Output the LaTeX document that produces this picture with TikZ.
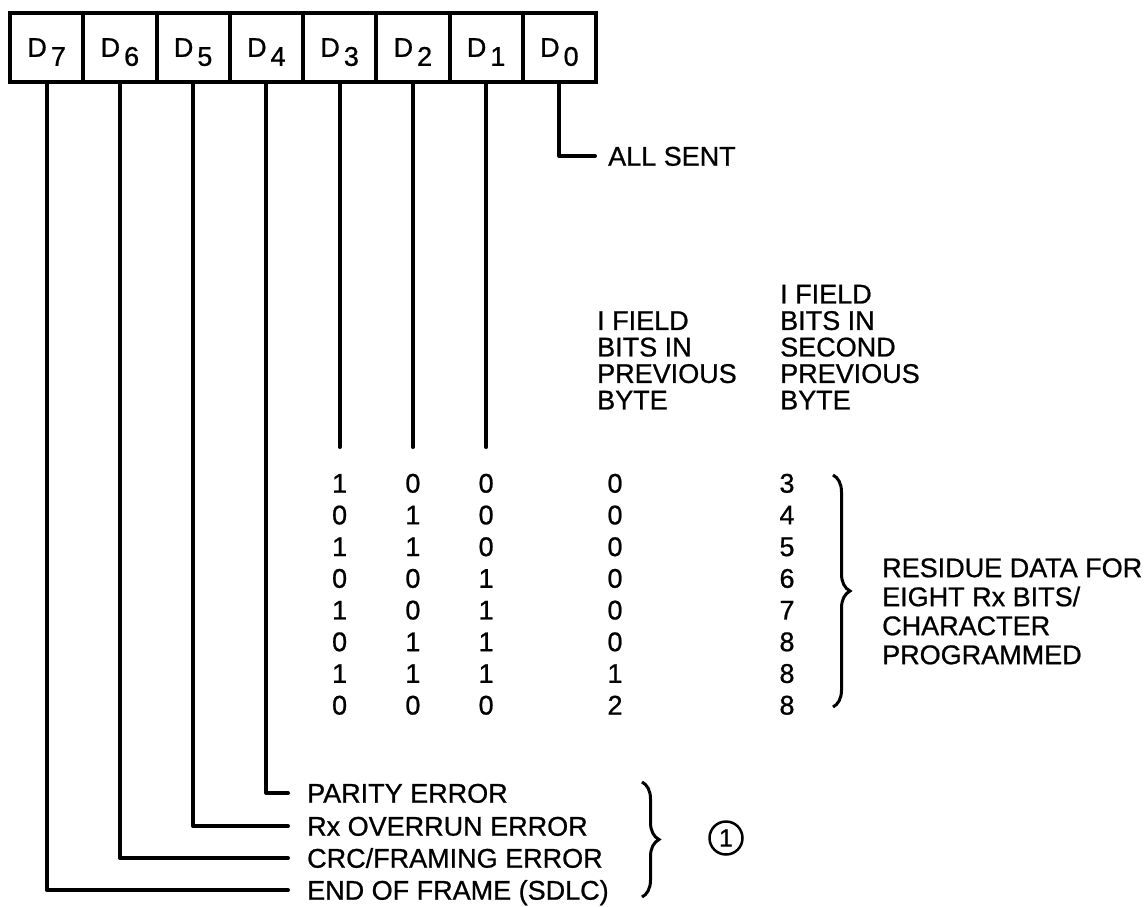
\documentclass[tikz,border=0pt]{standalone}
\usepackage{fontspec}
\setmainfont{Liberation Sans}[FakeBold=0.8]
\usetikzlibrary{decorations.pathreplacing}
\begin{document}
\begin{tikzpicture}[
    x=1pt,y=-1pt,
    every node/.style={font=\fontsize{27}{28}\selectfont, inner sep=0pt},
    bitcell/.style={draw, line width=4pt, minimum width=73.25pt, minimum height=69pt},
    wire/.style={line width=4pt, line cap=round, line join=round},
    lbl/.style={anchor=west, text height=19.3pt, text depth=0pt},
    num/.style={text height=19.3pt, text depth=0pt},
    hdr/.style={anchor=south west, align=left, font=\fontsize{27}{26.5}\selectfont},
    brc/.style={decorate, decoration={brace, amplitude=17pt}, line width=3pt}
]
    \useasboundingbox (0,0) rectangle (1146,906);

    \foreach \b [count=\i from 0] in {7,6,5,4,3,2,1,0} {
        \node[bitcell] (d\b) at ({46.625+73.25*\i},47.5) {D\hspace{4pt}\smash{\raisebox{-9pt}{\b}}};
    }

    \node[lbl] (allsent) at (608,156) {ALL SENT};
    \node[lbl] (parity) at (307,793) {PARITY ERROR};
    \node[lbl] (overrun) at (307,826) {Rx OVERRUN ERROR};
    \node[lbl] (crc) at (307,858) {CRC/FRAMING ERROR};
    \node[lbl] (eof) at (307,890) {END OF FRAME (SDLC)};

    \draw[wire, shorten >=13pt] (d0.south) |- (allsent.west);
    \foreach \b/\t in {4/parity, 5/overrun, 6/crc, 7/eof} {
        \draw[wire, shorten >=19pt] (d\b.south) |- (\t.west);
    }
    \foreach \b in {3,2,1} {
        \coordinate (e\b) at (d\b.south |- 0,447);
        \draw[wire] (d\b.south) -- (e\b);
    }

    \node[hdr] (prevhdr) at (597,409.6) {I FIELD\\BITS IN\\PREVIOUS\\BYTE};
    \node[hdr] (secondhdr) at (780,409.6) {I FIELD\\BITS IN\\SECOND\\PREVIOUS\\BYTE};

    \foreach \p/\q/\s/\u/\v [count=\r from 0] in {1/0/0/0/3, 0/1/0/0/4, 1/1/0/0/5, 0/0/1/0/6,
                                                 1/0/1/0/7, 0/1/1/0/8, 1/1/1/1/8, 0/0/0/2/8} {
        \node[num] (r\r a) at (339.6,{483+31.7*\r}) {\p};
        \node[num] (r\r b) at (412.9,{483+31.7*\r}) {\q};
        \node[num] (r\r c) at (486.1,{483+31.7*\r}) {\s};
        \node[num] (r\r d) at (615,{483+31.7*\r}) {\u};
        \node[num] (r\r e) at (787,{483+31.7*\r}) {\v};
    }
    \draw[brc] (833,475) -- (833,707);
    \node[hdr, font=\fontsize{27}{29}\selectfont] (residue) at (882,664.6) {RESIDUE DATA FOR\\EIGHT Rx BITS/\\CHARACTER\\PROGRAMMED};

    \draw[brc] (642,782) -- (642,897);
    \node[draw, circle, line width=2.5pt, minimum size=33pt, font=\fontsize{25}{25}\selectfont] (note) at (726,838) {1};
\end{tikzpicture}
\end{document}
